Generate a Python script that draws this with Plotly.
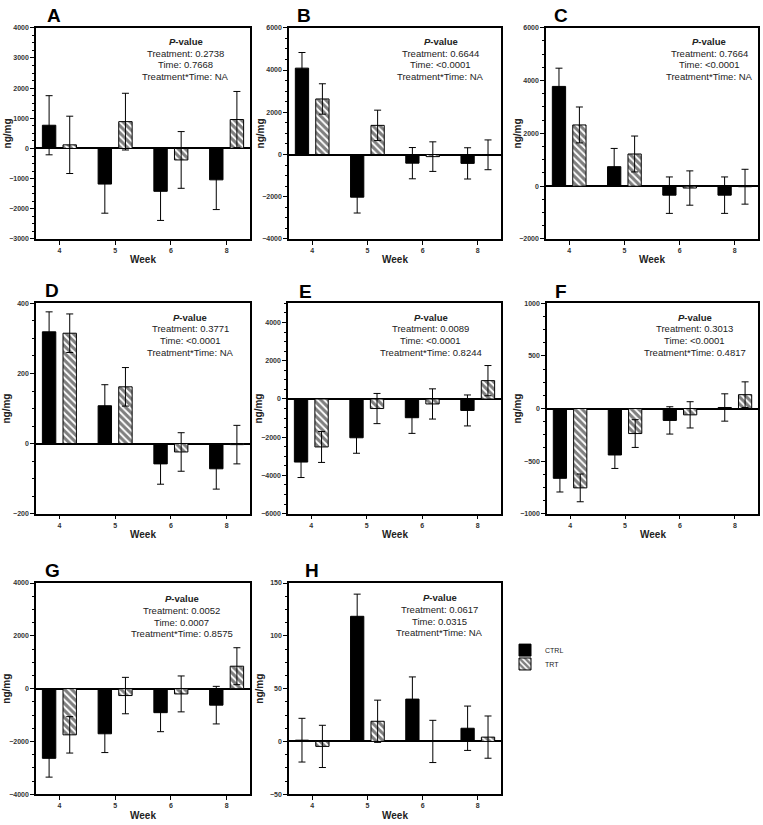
import plotly.graph_objects as go

W, H = 763, 825
FONT = "Liberation Sans, Arial, sans-serif"

weeks = ["4", "5", "6", "8"]

# mean and error per week, CTRL / TRT
a_ctrl = [770, -1180, -1420, -1040]
a_ctrl_sd = [980, 965, 965, 985]
a_trt = [120, 890, -380, 960]
a_trt_sd = [950, 940, 940, 930]

b_ctrl = [4090, -2020, -410, -420]
b_ctrl_sd = [740, 750, 740, 740]
b_trt = [2630, 1380, -100, -15]
b_trt_sd = [720, 720, 700, 705]

c_ctrl = [3780, 740, -340, -340]
c_ctrl_sd = [690, 690, 690, 690]
c_trt = [2320, 1220, -70, -20]
c_trt_sd = [680, 680, 650, 660]

d_ctrl = [319, 108, -58, -72]
d_ctrl_sd = [57, 60, 58, 58]
d_trt = [315, 162, -24, -3]
d_trt_sd = [55, 55, 55, 55]

e_ctrl = [-3300, -2030, -980, -600]
e_ctrl_sd = [810, 810, 820, 810]
e_trt = [-2510, -500, -260, 960]
e_trt_sd = [810, 790, 790, 790]

f_ctrl = [-664, -442, -113, 10]
f_ctrl_sd = [130, 128, 130, 130]
f_trt = [-755, -238, -60, 132]
f_trt_sd = [132, 132, 125, 122]

g_ctrl = [-2640, -1710, -910, -625]
g_ctrl_sd = [712, 712, 720, 712]
g_trt = [-1750, -262, -200, 850]
g_trt_sd = [690, 690, 680, 700]

h_ctrl = [1.2, 118.5, 40.1, 12.5]
h_ctrl_sd = [20.7, 21, 21, 21]
h_trt = [-4.7, 19.1, 0, 4.1]
h_trt_sd = [20, 20, 20, 20]

# P-values: Treatment, Time, Treatment*Time
a_p = ["0.2738", "0.7668", "NA"]
b_p = ["0.6644", "<0.0001", "NA"]
c_p = ["0.7664", "<0.0001", "NA"]
d_p = ["0.3771", "<0.0001", "NA"]
e_p = ["0.0089", "<0.0001", "0.8244"]
f_p = ["0.3013", "<0.0001", "0.4817"]
g_p = ["0.0052", "0.0007", "0.8575"]
h_p = ["0.0617", "0.0315", "NA"]

# y range and tick step per panel
panels = [
    ("A", a_ctrl, a_ctrl_sd, a_trt, a_trt_sd, a_p, (-3000, 4000, 1000)),
    ("B", b_ctrl, b_ctrl_sd, b_trt, b_trt_sd, b_p, (-4000, 6000, 2000)),
    ("C", c_ctrl, c_ctrl_sd, c_trt, c_trt_sd, c_p, (-2000, 6000, 2000)),
    ("D", d_ctrl, d_ctrl_sd, d_trt, d_trt_sd, d_p, (-200, 400, 200)),
    ("E", e_ctrl, e_ctrl_sd, e_trt, e_trt_sd, e_p, (-6000, 5000, 2000)),
    ("F", f_ctrl, f_ctrl_sd, f_trt, f_trt_sd, f_p, (-1000, 1000, 500)),
    ("G", g_ctrl, g_ctrl_sd, g_trt, g_trt_sd, g_p, (-4000, 4000, 2000)),
    ("H", h_ctrl, h_ctrl_sd, h_trt, h_trt_sd, h_p, (-50, 150, 50)),
]

# plot boxes in pixels: left, top, right, bottom
boxes = [
    (36, 24, 250, 237), (289, 24, 501, 237), (546, 24, 758, 237),
    (36, 302, 250, 514), (288, 302, 501, 514), (547, 302, 758, 514),
    (36, 584, 250, 797), (289, 584, 501, 797),
]
letter_pos = [(45, 12), (295, 12), (552, 12), (43, 289), (297, 290), (553, 290), (43, 571), (303, 571)]
pval_x = [0.70, 0.715, 0.77, 0.72, 0.67, 0.70, 0.68, 0.71]
pval_top = [14, 14, 14, 14, 14, 14, 16, 15]

fig = go.Figure()
annots = []
err_style = dict(type='data', color='black', thickness=1, width=3.5)

for i, (lab, ctrl, ctrl_sd, trt, trt_sd, pv, (ymin, ymax, dt)) in enumerate(panels):
    s = '' if i == 0 else str(i + 1)
    x0, t, x1, b = boxes[i]
    fig.add_trace(go.Bar(
        x=weeks, y=ctrl, name='CTRL', legend='legend', showlegend=(i == 0),
        marker=dict(color='black', line=dict(color='black', width=1)),
        error_y=dict(array=ctrl_sd, **err_style), xaxis='x' + s, yaxis='y' + s))
    fig.add_trace(go.Bar(
        x=weeks, y=trt, name='TRT', legend='legend2', showlegend=(i == 0),
        marker=dict(color='white', line=dict(color='black', width=1),
                    pattern=dict(shape='\\', fgcolor='black', bgcolor='white', size=5, solidity=0.62)),
        error_y=dict(array=trt_sd, **err_style), xaxis='x' + s, yaxis='y' + s))

    fig.layout['xaxis' + s] = dict(
        domain=[x0 / W, x1 / W], anchor='y' + s, type='category', range=[-0.42, 3.42],
        showline=True, mirror=True, linecolor='black', linewidth=1.5,
        ticks='outside', ticklen=4, tickcolor='black', showgrid=False,
        tickfont=dict(family=FONT, size=7, color='#333', weight='bold'))
    fig.layout['yaxis' + s] = dict(
        domain=[1 - b / H, 1 - t / H], anchor='x' + s, range=[ymin, ymax],
        tick0=ymin, dtick=dt, showline=True, mirror=True, linecolor='black', linewidth=1.5,
        ticks='outside', ticklen=4, tickcolor='black', showgrid=False,
        zeroline=True, zerolinecolor='black', zerolinewidth=1.5,
        minor=dict(tick0=ymin, dtick=dt / 4, ticks='outside', ticklen=2, tickcolor='black', showgrid=False),
        tickfont=dict(family=FONT, size=7, color='#333', weight='bold'))

    # panel letter
    lx, ly = letter_pos[i]
    annots.append(dict(text='<b>%s</b>' % lab, x=lx / W, y=1 - ly / H, xref='paper', yref='paper',
                       xanchor='left', yanchor='middle', showarrow=False,
                       font=dict(family=FONT, size=19, color='black')))
    # axis titles
    annots.append(dict(text='<b>Week</b>', x=(x0 + x1) / 2 / W, y=1 - (b + 21) / H, xref='paper', yref='paper',
                       xanchor='center', yanchor='middle', showarrow=False,
                       font=dict(family=FONT, size=10, color='#222')))
    annots.append(dict(text='<b>ng/mg</b>', x=(x0 - 29) / W, y=1 - (t + b) / 2 / H, xref='paper', yref='paper',
                       xanchor='center', yanchor='middle', textangle=-90, showarrow=False,
                       font=dict(family=FONT, size=10, color='#222')))
    # P-value block
    cx = (x0 + pval_x[i] * (x1 - x0)) / W
    lines = ['<b><i>P</i>-value</b>', 'Treatment: ' + pv[0], 'Time: ' + pv[1], 'Treatment*Time: ' + pv[2]]
    for k, txt in enumerate(lines):
        annots.append(dict(text=txt, x=cx, y=1 - (t + pval_top[i] + k * 11.7) / H, xref='paper', yref='paper',
                           xanchor='center', yanchor='middle', showarrow=False,
                           font=dict(family=FONT, size=9.5, color='#222')))

leg = dict(xanchor='left', yanchor='top', font=dict(family=FONT, size=7, color='#222'),
           bgcolor='rgba(0,0,0,0)', itemwidth=30)
fig.update_layout(
    width=W, height=H, margin=dict(l=0, r=0, t=0, b=0),
    paper_bgcolor='white', plot_bgcolor='white',
    barmode='group', bargap=0.26, bargroupgap=0.35,
    annotations=annots,
    legend=dict(x=505 / W, y=1 - 637 / H, **leg),
    legend2=dict(x=505 / W, y=1 - 651 / H, **leg),
    font=dict(family=FONT),
)

fig.write_html("out.html", config={'displayModeBar': False},
               post_script="document.body.style.margin='0px';")
